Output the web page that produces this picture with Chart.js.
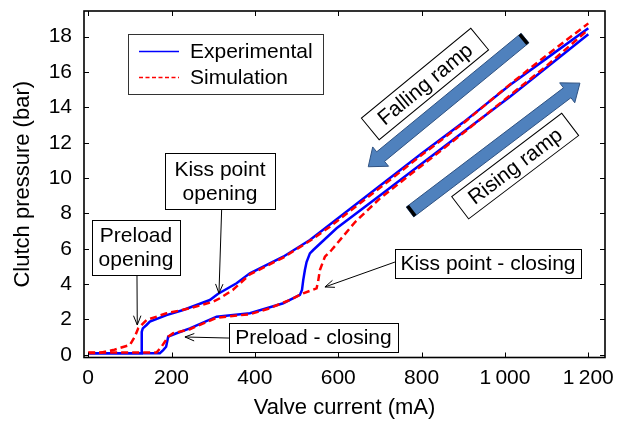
<!DOCTYPE html>
<html>
<head>
<meta charset="utf-8">
<script src="https://cdn.jsdelivr.net/npm/chart.js@4.4.1/dist/chart.umd.min.js"></script>
<style>
  html, body { margin: 0; padding: 0; background: #fff; }
  canvas { display: block; }
</style>
</head>
<body>
<canvas id="chart" width="625" height="424"></canvas>
<script>
// Measured clutch pressure, rising current ramp (lower branch)
const expRiseCurrent  = [0, 100, 172, 180, 187, 192, 212, 244, 308, 388, 468, 508, 513, 516, 520, 524, 532, 540, 596, 700, 800, 900, 1012, 1100, 1200];
const expRisePressure = [0.09, 0.09, 0.09, 0.27, 0.46, 1.03, 1.22, 1.50, 2.16, 2.35, 2.92, 3.39, 3.67, 4.23, 4.80, 5.25, 5.74, 5.93, 7.16, 9.02, 10.81, 12.60, 14.60, 16.25, 18.13];

// Measured clutch pressure, falling current ramp (upper branch)
const expFallCurrent  = [0, 80, 128, 128, 129, 131, 140, 148, 188, 228, 292, 311, 356, 388, 468, 532, 580, 700, 800, 900, 1012, 1100, 1200];
const expFallPressure = [0.09, 0.09, 0.09, 0.70, 1.30, 1.50, 1.69, 1.88, 2.25, 2.54, 3.10, 3.44, 4.05, 4.61, 5.55, 6.50, 7.37, 9.57, 11.39, 13.15, 15.26, 16.77, 18.48];

// Simulated clutch pressure, rising current ramp
const simRiseCurrent  = [0, 100, 164, 176, 184, 192, 204, 244, 308, 388, 435, 483, 516, 548, 552, 556, 568, 584, 640, 700, 800, 900, 1000, 1100, 1200];
const simRisePressure = [0.13, 0.13, 0.13, 0.46, 0.74, 1.03, 1.22, 1.45, 2.10, 2.30, 2.63, 3.10, 3.48, 3.76, 4.20, 4.80, 5.55, 5.93, 7.50, 8.85, 10.70, 12.55, 14.45, 16.35, 18.40];

// Simulated clutch pressure, falling current ramp
const simFallCurrent  = [0, 30, 60, 100, 112, 120, 140, 188, 244, 300, 316, 347, 388, 468, 532, 580, 700, 800, 900, 1012, 1100, 1200];
const simFallPressure = [0.10, 0.12, 0.27, 0.56, 1.03, 1.50, 1.97, 2.35, 2.63, 3.01, 3.20, 3.67, 4.55, 5.50, 6.45, 7.25, 9.45, 11.30, 13.10, 15.30, 16.95, 18.75];

// Axis ticks
const xTickValues = [0, 200, 400, 600, 800, 1000, 1200];
const xTickLabels = ['0', '200', '400', '600', '800', '1\u2009000', '1\u2009200'];
const yTickValues = [0, 2, 4, 6, 8, 10, 12, 14, 16, 18];

const FAMILY = '"Liberation Sans", Arial, Helvetica, sans-serif';
const TEXT_PX = 21;
const TITLE_PX = 22;

const zip = (xs, ys) => xs.map((v, i) => ({ x: v, y: ys[i] }));

const EXP_COLOR = '#0000ff';
const SIM_COLOR = '#ff0000';

const lineStyle = (data, color, dashed, order) => ({
  data,
  showLine: true,
  borderColor: color,
  backgroundColor: color,
  borderWidth: 2.5,
  borderDash: dashed ? [7, 4] : [],
  pointRadius: 0,
  tension: 0,
  fill: false,
  order
});

// Callout boxes with leader arrows; anchor points in data units (mA, bar)
const callouts = [
  { lines: ['Preload', 'opening'],    at: [114.7, 6.07], from: [117.1, 4.52], to: [117.8, 1.69], w: 88,  h: 55 },
  { lines: ['Kiss point', 'opening'], at: [316.2, 9.83], from: [320.3, 8.25], to: [313.8, 3.48], w: 110, h: 56 },
  { lines: ['Preload - closing'],     at: [540.5, 0.98], from: [337.8, 0.95], to: [232.2, 1.01], w: 169, h: 29 },
  { lines: ['Kiss point - closing'],  at: [959.2, 5.17], from: [736.1, 5.25], to: [568.1, 3.84], w: 186, h: 29 }
];

// Direction arrows for the two ramps, with their tilted labels
const ramps = [
  { label: 'Falling ramp', labelAt: [808.1, 15.32], tail: [1048.1, 17.92], tip: [672.0, 10.64] },
  { label: 'Rising ramp',  labelAt: [1024.5, 10.68], tail: [772.1, 8.08],  tip: [1179.9, 15.37] }
];

function fatArrow(ctx, t, p) {
  const dx = p[0] - t[0], dy = p[1] - t[1];
  const len = Math.hypot(dx, dy);
  const ux = dx / len, uy = dy / len;
  const nx = -uy, ny = ux;
  const w = 6.2, hw = 12.5, hl = 16;
  const bx = p[0] - ux * hl, by = p[1] - uy * hl;
  ctx.beginPath();
  ctx.moveTo(t[0] + nx * w, t[1] + ny * w);
  ctx.lineTo(bx + nx * w, by + ny * w);
  ctx.lineTo(bx + nx * hw, by + ny * hw);
  ctx.lineTo(p[0], p[1]);
  ctx.lineTo(bx - nx * hw, by - ny * hw);
  ctx.lineTo(bx - nx * w, by - ny * w);
  ctx.lineTo(t[0] - nx * w, t[1] - ny * w);
  ctx.closePath();
  ctx.fillStyle = '#4f81bd';
  ctx.fill();
  ctx.strokeStyle = '#2f5282';
  ctx.lineWidth = 1;
  ctx.stroke();
  // dark end cap on the tail
  ctx.beginPath();
  ctx.moveTo(t[0] + nx * w, t[1] + ny * w);
  ctx.lineTo(t[0] + nx * w + ux * 3.5, t[1] + ny * w + uy * 3.5);
  ctx.lineTo(t[0] - nx * w + ux * 3.5, t[1] - ny * w + uy * 3.5);
  ctx.lineTo(t[0] - nx * w, t[1] - ny * w);
  ctx.closePath();
  ctx.fillStyle = '#000';
  ctx.fill();
}

function leader(ctx, f, p) {
  const a = Math.atan2(p[1] - f[1], p[0] - f[0]);
  const L = 10, spread = 0.38;
  ctx.beginPath();
  ctx.moveTo(f[0], f[1]);
  ctx.lineTo(p[0], p[1]);
  ctx.moveTo(p[0] - L * Math.cos(a - spread), p[1] - L * Math.sin(a - spread));
  ctx.lineTo(p[0], p[1]);
  ctx.lineTo(p[0] - L * Math.cos(a + spread), p[1] - L * Math.sin(a + spread));
  ctx.strokeStyle = '#000';
  ctx.lineWidth = 1;
  ctx.stroke();
}

const overlay = {
  id: 'overlay',
  afterDatasetsDraw(chart) {
    const { ctx, chartArea: a, scales: { x, y } } = chart;
    const P = d => [x.getPixelForValue(d[0]), y.getPixelForValue(d[1])];
    ctx.save();
    ctx.font = TEXT_PX + 'px ' + FAMILY;
    ctx.textAlign = 'center';
    ctx.textBaseline = 'middle';

    // plot frame
    ctx.strokeStyle = '#000';
    ctx.lineWidth = 1.6;
    ctx.strokeRect(a.left, a.top, a.right - a.left, a.bottom - a.top);

    // inward tick marks on all four sides
    ctx.lineWidth = 1;
    ctx.beginPath();
    for (const v of xTickValues) {
      const px = Math.round(x.getPixelForValue(v)) + 0.5;
      ctx.moveTo(px, a.bottom); ctx.lineTo(px, a.bottom - 5);
      ctx.moveTo(px, a.top);    ctx.lineTo(px, a.top + 5);
    }
    for (const v of yTickValues) {
      const py = Math.round(y.getPixelForValue(v)) + 0.5;
      ctx.moveTo(a.left, py);  ctx.lineTo(a.left + 5, py);
      ctx.moveTo(a.right, py); ctx.lineTo(a.right - 5, py);
    }
    ctx.stroke();

    // ramp arrows and tilted labels
    for (const r of ramps) {
      fatArrow(ctx, P(r.tail), P(r.tip));
    }
    for (const r of ramps) {
      const c = P(r.labelAt);
      const t = P(r.tail), p = P(r.tip);
      let ang = Math.atan2(p[1] - t[1], p[0] - t[0]);
      if (Math.cos(ang) < 0) ang += Math.PI;
      const tw = ctx.measureText(r.label).width;
      const bw = tw + 26, bh = 28;
      ctx.save();
      ctx.translate(c[0], c[1]);
      ctx.rotate(ang);
      ctx.fillStyle = '#fff';
      ctx.fillRect(-bw / 2, -bh / 2, bw, bh);
      ctx.strokeStyle = '#000';
      ctx.lineWidth = 1;
      ctx.strokeRect(-bw / 2, -bh / 2, bw, bh);
      ctx.fillStyle = '#000';
      ctx.fillText(r.label, 0, 1);
      ctx.restore();
    }

    // callouts
    for (const c of callouts) {
      leader(ctx, P(c.from), P(c.to));
      const m = P(c.at);
      const l = Math.round(m[0] - c.w / 2) + 0.5, t = Math.round(m[1] - c.h / 2) + 0.5;
      ctx.fillStyle = '#fff';
      ctx.fillRect(l, t, c.w, c.h);
      ctx.strokeStyle = '#000';
      ctx.lineWidth = 1;
      ctx.strokeRect(l, t, c.w, c.h);
      ctx.fillStyle = '#000';
      const lh = 24;
      c.lines.forEach((s, i) => {
        ctx.fillText(s, m[0], m[1] + (i - (c.lines.length - 1) / 2) * lh + 1);
      });
    }

    // legend
    const lx = a.left + 44, ly = a.top + 23, lw = 195, lhgt = 60;
    ctx.fillStyle = '#fff';
    ctx.fillRect(lx + 0.5, ly + 0.5, lw, lhgt);
    ctx.strokeStyle = '#333';
    ctx.lineWidth = 1;
    ctx.strokeRect(lx + 0.5, ly + 0.5, lw, lhgt);
    const entries = [
      { text: 'Experimental', color: EXP_COLOR, dash: [] },
      { text: 'Simulation',   color: SIM_COLOR, dash: [4, 2.5] }
    ];
    ctx.textAlign = 'left';
    entries.forEach((e, i) => {
      const yy = ly + 17.5 + i * 26;
      ctx.strokeStyle = e.color;
      ctx.lineWidth = 1.4;
      ctx.setLineDash(e.dash);
      ctx.beginPath();
      ctx.moveTo(lx + 11, yy);
      ctx.lineTo(lx + 51, yy);
      ctx.stroke();
      ctx.setLineDash([]);
      ctx.fillStyle = '#000';
      ctx.fillText(e.text, lx + 62, yy + 1);
    });
    ctx.restore();
  }
};

const tickFont = { family: FAMILY, size: TEXT_PX };
const titleFont = { family: FAMILY, size: TITLE_PX };

new Chart(document.getElementById('chart'), {
  type: 'scatter',
  data: {
    datasets: [
      lineStyle(zip(simRiseCurrent, simRisePressure), SIM_COLOR, true, 0),
      lineStyle(zip(simFallCurrent, simFallPressure), SIM_COLOR, true, 1),
      lineStyle(zip(expRiseCurrent, expRisePressure), EXP_COLOR, false, 2),
      lineStyle(zip(expFallCurrent, expFallPressure), EXP_COLOR, false, 3)
    ]
  },
  options: {
    responsive: false,
    animation: false,
    events: [],
    layout: { padding: { left: 0, right: 20, top: 11, bottom: 0 } },
    plugins: { legend: { display: false }, tooltip: { enabled: false } },
    scales: {
      x: {
        type: 'linear',
        min: -10,
        max: 1240,
        grid: { display: false, drawTicks: false },
        border: { display: false },
        afterBuildTicks: s => { s.ticks = xTickValues.map(v => ({ value: v })); },
        afterFit: s => { s.height = 66.5; s.paddingLeft = 0; s.paddingRight = 0; },
        ticks: {
          autoSkip: false,
          maxRotation: 0,
          padding: 8,
          color: '#000',
          font: tickFont,
          callback: v => xTickLabels[xTickValues.indexOf(v)]
        },
        title: {
          display: true,
          text: 'Valve current (mA)',
          color: '#000',
          font: titleFont,
          padding: { top: 0, bottom: 3 }
        }
      },
      y: {
        type: 'linear',
        min: -0.15,
        max: 19.45,
        grid: { display: false, drawTicks: false },
        border: { display: false },
        afterBuildTicks: s => { s.ticks = yTickValues.map(v => ({ value: v })); },
        afterFit: s => { s.width = 84; s.paddingTop = 0; s.paddingBottom = 0; },
        ticks: {
          autoSkip: false,
          padding: 12,
          color: '#000',
          font: tickFont,
          callback: v => String(v)
        },
        title: {
          display: true,
          text: 'Clutch pressure (bar)',
          color: '#000',
          font: titleFont,
          padding: { top: 10, bottom: 0 }
        }
      }
    }
  },
  plugins: [overlay]
});
</script>
</body>
</html>
